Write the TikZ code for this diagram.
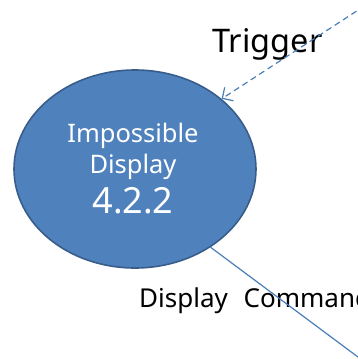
\documentclass[tikz,border=0pt]{standalone}
\usepackage{fontspec}
\setmainfont{Noto Sans}
\usetikzlibrary{shapes.geometric,arrows.meta}
\definecolor{dispfill}{HTML}{4F81BD}
\definecolor{displine}{HTML}{385D8A}
\definecolor{arrline}{HTML}{4A7EBB}

\begin{document}
\begin{tikzpicture}[x=1pt, y=-1pt,
		state/.style={ellipse, draw=displine, line width=1.6pt, fill=dispfill, text=white,
			minimum width=242pt, minimum height=198pt, inner sep=0pt, align=center,
			font=\fontsize{25.5}{31}\selectfont},
		flow/.style={arrline, line width=1.2pt, -{Straight Barb[length=8pt,width=16pt]}}]
		\useasboundingbox (0,0) rectangle (358,359);
		\clip (0,0) rectangle (358,359);
		\node[state] (disp) at (135,169) {};
		\node[anchor=base, text=white, font=\fontsize{25.5}{31}\selectfont, align=center] (name) at (133,173) {Impossible\\Display};
		\node[anchor=base, text=white, font=\fontsize{36}{42}\selectfont] (num) at (133,213) {4.2.2};
		\coordinate (src) at (390,-10.6);
		\coordinate (cmd) at (362,360);
		\node[anchor=base, font=\fontsize{32.5}{38}\selectfont] (trig) at (267.5,52) {Trigger};
		\node[anchor=base west, inner sep=0pt, font=\fontsize{26}{30}\selectfont] (dcmd) at (139,307) {Display \hspace{9pt}Command};
		\draw[flow, dash pattern=on 6pt off 4pt](src) to (disp.39);
		\draw[flow](disp.-46) to (cmd);
		\end{tikzpicture}
\end{document}
